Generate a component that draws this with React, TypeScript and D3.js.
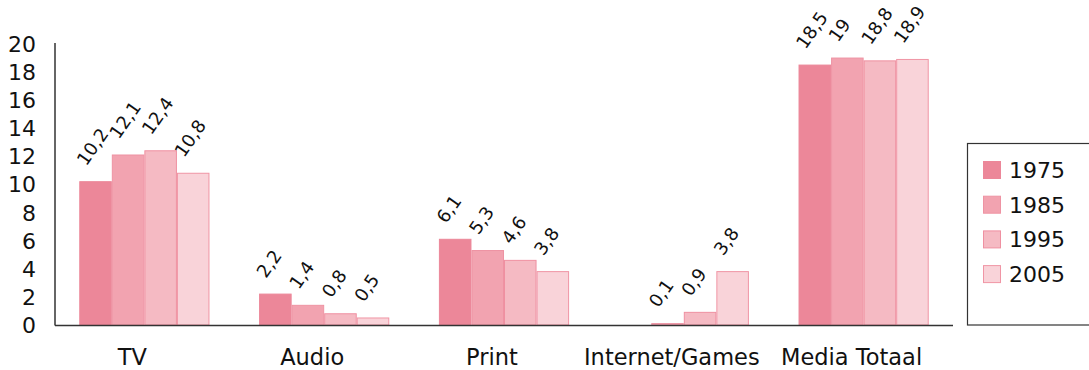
import React, { useEffect, useRef } from 'react';
import * as d3 from 'd3';

const categories = ['TV', 'Audio', 'Print', 'Internet/Games', 'Media Totaal'];
const years = ['1975', '1985', '1995', '2005'];
const values1975: (number | null)[] = [10.2, 2.2, 6.1, null, 18.5];
const values1985: (number | null)[] = [12.1, 1.4, 5.3, 0.1, 19];
const values1995: (number | null)[] = [12.4, 0.8, 4.6, 0.9, 18.8];
const values2005: (number | null)[] = [10.8, 0.5, 3.8, 3.8, 18.9];
const yTicks = [0, 2, 4, 6, 8, 10, 12, 14, 16, 18, 20];

const series = [values1975, values1985, values1995, values2005];
const fills = ['#ec8799', '#f2a3b0', '#f5bac3', '#f9d3d9'];
const strokes = ['#ec8799', '#ee93a3', '#ef90a1', '#f095a5'];

const W = 1089;
const H = 370;
const FONT = '"DejaVu Sans", "Liberation Sans", Arial, sans-serif';

const fmt = (v: number) => String(v).replace('.', ',');

const App: React.FC = () => {
  const ref = useRef<SVGSVGElement | null>(null);

  useEffect(() => {
    if (!ref.current) return;
    const svg = d3.select<SVGSVGElement, unknown>(ref.current);
    svg.selectAll('*').remove();

    const axisX = 55;
    const x0 = d3
      .scaleBand<string>()
      .domain(categories)
      .range([axisX, 953])
      .paddingInner(0.276)
      .paddingOuter(0.135);
    const x1 = d3.scaleBand<string>().domain(years).range([0, x0.bandwidth()]);
    const y = d3.scaleLinear().domain([0, 20]).range([325, 44]);

    // bars + value labels
    const g = svg.append('g');
    categories.forEach((cat, ci) => {
      series.forEach((vals, si) => {
        const v = vals[ci];
        if (v == null) return;
        const bx = (x0(cat) ?? 0) + (x1(years[si]) ?? 0);
        g.append('rect')
          .attr('x', bx + 0.5)
          .attr('y', y(v))
          .attr('width', x1.bandwidth() - 1)
          .attr('height', y(0) - y(v))
          .attr('fill', fills[si])
          .attr('stroke', strokes[si])
          .attr('stroke-width', 1);
        g.append('text')
          .attr('transform', `translate(${bx + 7},${y(v) - 15}) rotate(-55)`)
          .attr('font-family', FONT)
          .attr('font-size', 18)
          .attr('fill', '#111')
          .text(fmt(v));
      });
    });

    // axis lines
    svg.append('line')
      .attr('x1', axisX).attr('x2', axisX)
      .attr('y1', 43).attr('y2', 325.5)
      .attr('stroke', '#333').attr('stroke-width', 1.5);
    svg.append('line')
      .attr('x1', axisX).attr('x2', 953)
      .attr('y1', 325.5).attr('y2', 325.5)
      .attr('stroke', '#333').attr('stroke-width', 1.5);

    // y tick labels
    svg.append('g')
      .selectAll('text')
      .data(yTicks)
      .join('text')
      .attr('x', 36)
      .attr('y', (d: number) => y(d))
      .attr('dy', '0.36em')
      .attr('text-anchor', 'end')
      .attr('font-family', FONT)
      .attr('font-size', 22)
      .attr('fill', '#111')
      .text((d: number) => String(d));

    // category labels
    svg.append('g')
      .selectAll('text')
      .data(categories)
      .join('text')
      .attr('x', (d: string) => (x0(d) ?? 0) + x0.bandwidth() / 2 - 12)
      .attr('y', 365)
      .attr('text-anchor', 'middle')
      .attr('font-family', FONT)
      .attr('font-size', 22.5)
      .attr('fill', '#111')
      .text((d: string) => d);

    // legend
    const lg = svg.append('g');
    lg.append('rect')
      .attr('x', 967.5).attr('y', 143.5)
      .attr('width', 140).attr('height', 181.5)
      .attr('fill', 'none').attr('stroke', '#333').attr('stroke-width', 1.2);
    years.forEach((yr, i) => {
      const ly = 161 + i * 34.7;
      lg.append('rect')
        .attr('x', 983.5).attr('y', ly + 0.5)
        .attr('width', 17).attr('height', 17)
        .attr('fill', fills[i]).attr('stroke', strokes[i]);
      lg.append('text')
        .attr('x', 1009).attr('y', ly + 9)
        .attr('dy', '0.36em')
        .attr('font-family', FONT)
        .attr('font-size', 22)
        .attr('fill', '#111')
        .text(yr);
    });
  }, []);

  return (
    <svg
      ref={ref}
      width={W}
      height={H}
      style={{ position: 'absolute', left: 0, top: 0, background: '#fff' }}
    />
  );
};

export default App;
